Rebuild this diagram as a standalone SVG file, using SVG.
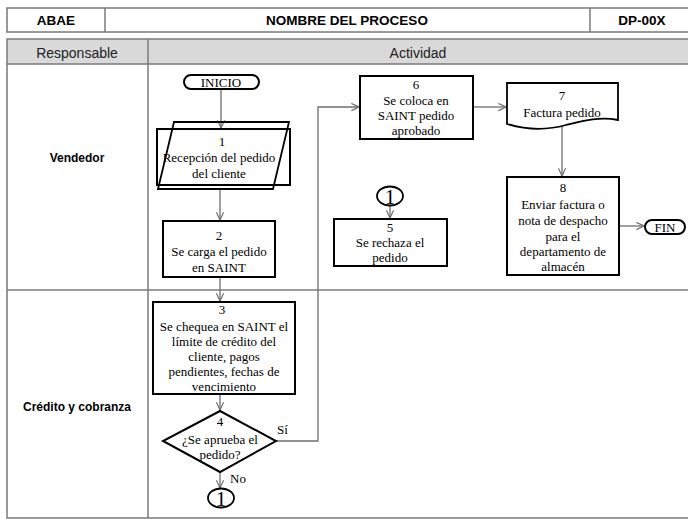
<svg xmlns="http://www.w3.org/2000/svg" width="688" height="519" viewBox="0 0 688 519">
<defs>
<style>
.tbl{fill:none;stroke:#7a7a7a;stroke-width:1.5}
.hdr{font-family:"Liberation Sans",Arial,sans-serif;font-size:13.5px;font-weight:bold;fill:#000;text-anchor:middle}
.col{font-family:"Liberation Sans",Arial,sans-serif;font-size:14px;fill:#222;text-anchor:middle}
.lane{font-family:"Liberation Sans",Arial,sans-serif;font-size:12px;font-weight:bold;fill:#000;text-anchor:middle}
.box{fill:#fff;stroke:#000;stroke-width:2}
.t{font-family:"Liberation Serif","Times New Roman",serif;font-size:13px;fill:#000;text-anchor:middle}
.lbl{font-family:"Liberation Serif","Times New Roman",serif;font-size:13px;fill:#000}
.big{font-family:"Liberation Serif","Times New Roman",serif;font-size:21px;fill:#000;text-anchor:middle}
.con{fill:none;stroke:#6e6e6e;stroke-width:1.3}
</style>
<marker id="arr" viewBox="0 0 10 10" refX="9.5" refY="5" markerWidth="9" markerHeight="9" markerUnits="userSpaceOnUse" orient="auto">
<polyline points="1,1 9.5,5 1,9" fill="none" stroke="#6e6e6e" stroke-width="1.3"/>
</marker>
</defs>
<rect x="0" y="0" width="688" height="519" fill="#fff"/>

<g id="header">
<rect class="tbl" x="7" y="8" width="690" height="24"/>
<line class="tbl" x1="105" y1="8" x2="105" y2="32"/>
<line class="tbl" x1="590" y1="8" x2="590" y2="32"/>
<text class="hdr" x="56" y="25">ABAE</text>
<text class="hdr" x="347" y="25">NOMBRE DEL PROCESO</text>
<text class="hdr" x="642" y="25">DP-00X</text>
</g>

<g id="table">
<rect x="7" y="39" width="690" height="25" fill="#d9d9d9"/>
<rect class="tbl" x="7" y="39" width="690" height="479"/>
<line class="tbl" x1="7" y1="64" x2="697" y2="64"/>
<line class="tbl" x1="7" y1="290" x2="697" y2="290"/>
<line class="tbl" x1="148" y1="39" x2="148" y2="518"/>
<text class="col" x="77" y="58">Responsable</text>
<text class="col" x="418" y="58">Actividad</text>
<text class="lane" x="77" y="162">Vendedor</text>
<text class="lane" x="77" y="411">Crédito y cobranza</text>
</g>

<g id="connectors">
<line class="con" x1="221" y1="89" x2="221" y2="128" marker-end="url(#arr)"/>
<line class="con" x1="220" y1="189" x2="220" y2="220" marker-end="url(#arr)"/>
<line class="con" x1="220" y1="278" x2="220" y2="301" marker-end="url(#arr)"/>
<line class="con" x1="220" y1="395" x2="220" y2="410" marker-end="url(#arr)"/>
<line class="con" x1="220" y1="472" x2="220" y2="488" marker-end="url(#arr)"/>
<polyline class="con" points="276,441 318,441 318,107 359,107" marker-end="url(#arr)"/>
<line class="con" x1="390" y1="205" x2="390" y2="218" marker-end="url(#arr)"/>
<line class="con" x1="474" y1="107" x2="506" y2="107" marker-end="url(#arr)"/>
<line class="con" x1="562" y1="126" x2="562" y2="176" marker-end="url(#arr)"/>
<line class="con" x1="620" y1="226" x2="644" y2="226" marker-end="url(#arr)"/>
<text class="lbl" x="277" y="434">Sí</text>
<text class="lbl" x="230" y="483">No</text>
</g>

<g id="inicio">
<rect class="box" x="184" y="75" width="75" height="14" rx="7" stroke-width="1.8"/>
<text class="t" x="221" y="86.5">INICIO</text>
</g>

<g id="n1">
<rect class="box" x="157" y="129" width="133" height="56"/>
<polygon points="174,122 289,122 273,189 158,189" fill="none" stroke="#000" stroke-width="1.8"/>
<text class="t" x="222" y="146">1</text>
<text class="t" x="219" y="162">Recepción del pedido</text>
<text class="t" x="219" y="178">del cliente</text>
</g>

<g id="n2">
<rect class="box" x="163" y="221" width="112" height="56"/>
<text class="t" x="219" y="240">2</text>
<text class="t" x="219" y="256">Se carga el pedido</text>
<text class="t" x="219" y="272">en SAINT</text>
</g>

<g id="n3">
<rect class="box" x="153" y="302" width="142" height="92"/>
<text class="t" x="222" y="314">3</text>
<text class="t" x="224" y="331">Se chequea en SAINT el</text>
<text class="t" x="224" y="346">límite de crédito del</text>
<text class="t" x="224" y="361">cliente, pagos</text>
<text class="t" x="224" y="376">pendientes, fechas de</text>
<text class="t" x="224" y="391">vencimiento</text>
</g>

<g id="n4">
<polygon class="box" points="220,411 276,441 220,472 163,441"/>
<text class="t" x="220" y="426">4</text>
<text class="t" x="220" y="444">¿Se aprueba el</text>
<text class="t" x="220" y="459">pedido?</text>
</g>

<g id="c1a">
<ellipse cx="221" cy="498" rx="13" ry="9.5" fill="#fff" stroke="#000" stroke-width="1.8"/>
<text class="big" x="221" y="506">1</text>
</g>

<g id="c1b">
<ellipse cx="390" cy="196" rx="13" ry="9.5" fill="#fff" stroke="#000" stroke-width="1.8"/>
<text class="big" x="390" y="204">1</text>
</g>

<g id="n5">
<rect class="box" x="334" y="219" width="113" height="47"/>
<text class="t" x="390" y="232">5</text>
<text class="t" x="390" y="247">Se rechaza el</text>
<text class="t" x="390" y="262">pedido</text>
</g>

<g id="n6">
<rect class="box" x="360" y="76" width="113" height="63"/>
<text class="t" x="416" y="89">6</text>
<text class="t" x="416" y="105">Se coloca en</text>
<text class="t" x="416" y="120">SAINT pedido</text>
<text class="t" x="416" y="135">aprobado</text>
</g>

<g id="n7">
<path d="M507,83 H618 V120 C600,116 582,121 566,125 C548,130 527,130 507,124 Z" fill="#fff" stroke="#000" stroke-width="1.8"/>
<text class="t" x="562" y="100">7</text>
<text class="t" x="562" y="117">Factura pedido</text>
</g>

<g id="n8">
<rect class="box" x="507" y="177" width="112" height="98"/>
<text class="t" x="563" y="192">8</text>
<text class="t" x="563" y="209">Enviar factura o</text>
<text class="t" x="563" y="225">nota de despacho</text>
<text class="t" x="563" y="241">para el</text>
<text class="t" x="563" y="256">departamento de</text>
<text class="t" x="563" y="271">almacén</text>
</g>

<g id="fin">
<rect class="box" x="645" y="220" width="40" height="14" rx="7" stroke-width="1.8"/>
<text class="t" x="665" y="231.5">FIN</text>
</g>
</svg>
